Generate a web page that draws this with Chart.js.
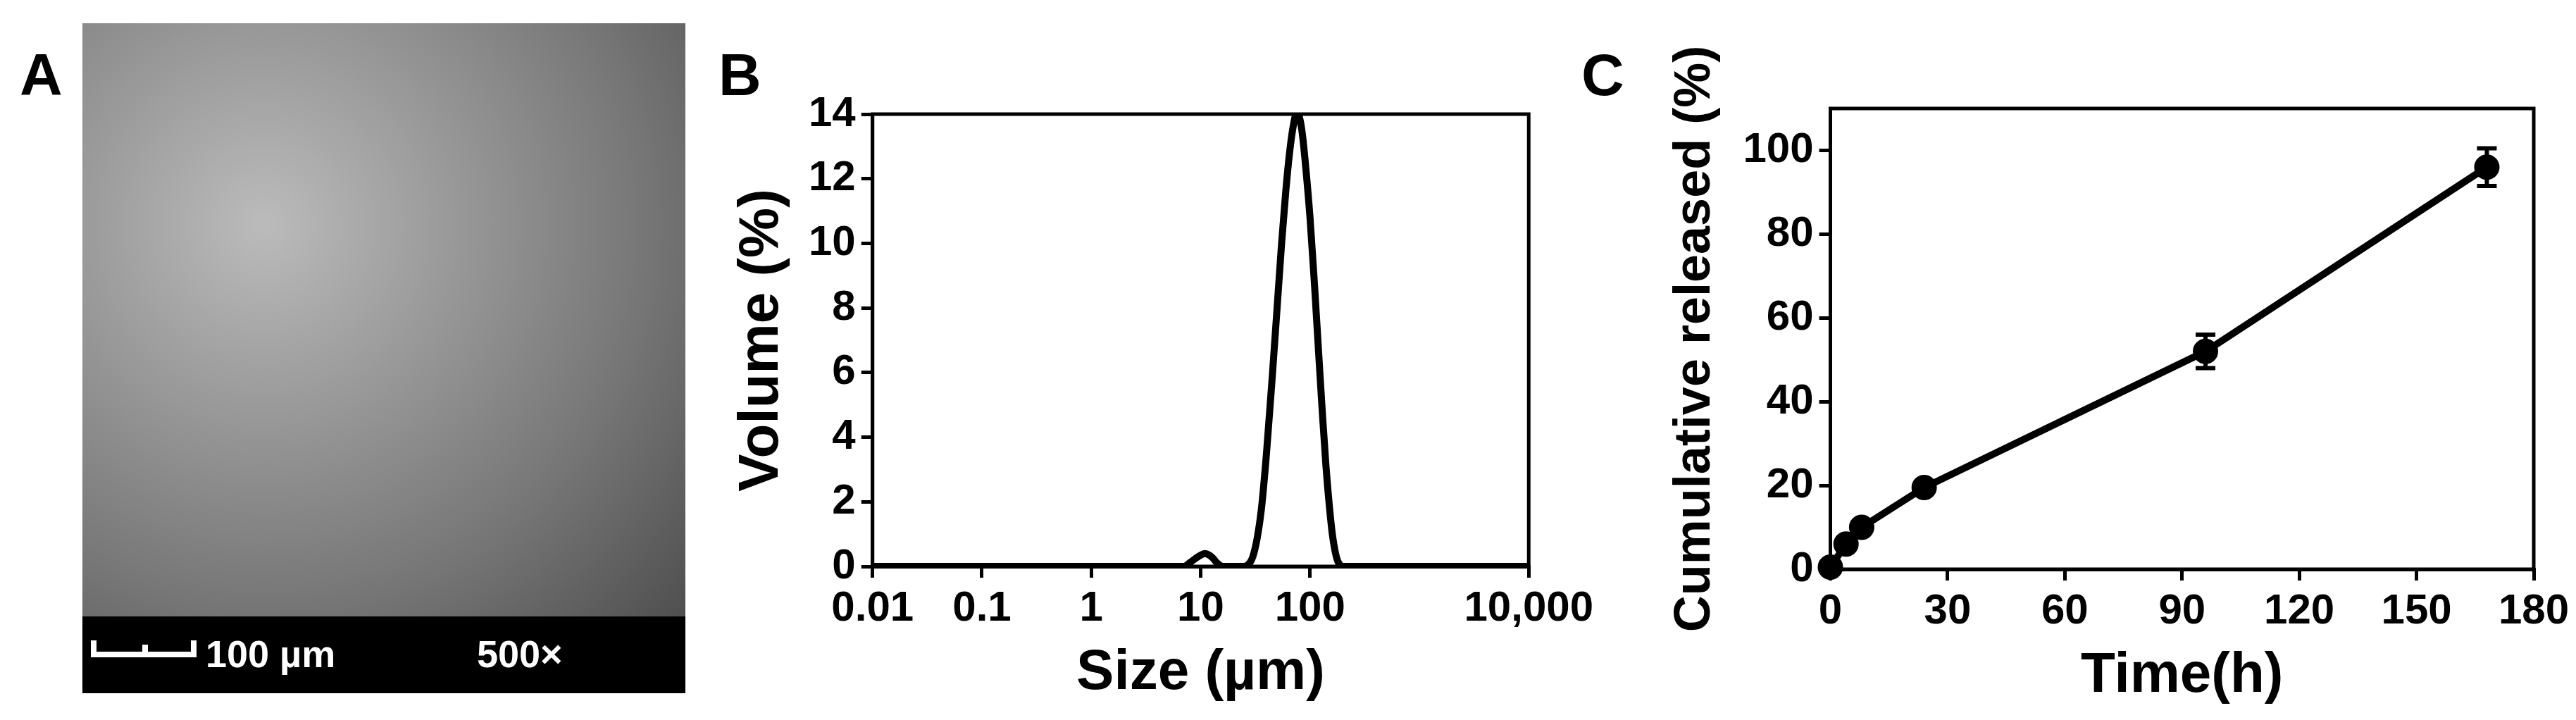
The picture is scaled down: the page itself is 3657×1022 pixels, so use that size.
<!DOCTYPE html>
<html><head><meta charset="utf-8">
<script src="https://cdn.jsdelivr.net/npm/chart.js@4"></script>
<style>
body{margin:0;width:3657px;height:1022px;background:#fff;position:relative;overflow:hidden;font-family:"Liberation Sans",Arial,sans-serif;font-weight:bold}
.lab{position:absolute;font-size:84px;font-weight:bold}
#img{position:absolute;left:117px;top:33px;width:856px;height:951px;background:radial-gradient(circle at 30% 30%,#bbb,#777 60%,#444)}
#band{position:absolute;left:117px;top:875px;width:856px;height:109px;background:#000;color:#fff;font-size:54px}
.wrap{position:absolute}
</style></head><body>
<div class="lab" style="left:28px;top:58px">A</div>
<div class="lab" style="left:1020px;top:58px">B</div>
<div class="lab" style="left:2245px;top:58px">C</div>
<div id="img"></div>
<div id="band">
 <div style="position:absolute;left:12px;top:50px;width:150px;height:8px;background:#fff"></div>
 <div style="position:absolute;left:12px;top:34px;width:8px;height:24px;background:#fff"></div>
 <div style="position:absolute;left:85px;top:40px;width:8px;height:18px;background:#fff"></div>
 <div style="position:absolute;left:154px;top:34px;width:8px;height:24px;background:#fff"></div>
 <div style="position:absolute;left:175px;top:22px">100 µm</div>
 <div style="position:absolute;left:560px;top:22px">500×</div>
</div>
<div class="wrap" style="left:1030px;top:118px;width:1240px;height:890px"><canvas id="cb"></canvas></div>
<div class="wrap" style="left:2360px;top:0px;width:1297px;height:1012px"><canvas id="cc"></canvas></div>
<script>
const sizeX=[0.01,0.1,1,5,7,8,9,10,11,12,13,14,16,25,28,30,33,36,40,45,50,55,60,65,70,75,80,85,90,100,110,120,130,140,150,160,170,180,200,1000,10000];
const volY=[0,0,0,0,0,0.12,0.25,0.35,0.4,0.35,0.25,0.12,0,0,0.1,0.3,0.9,1.8,3.5,5.8,8,10,11.6,12.8,13.6,14,13.9,13.4,12.6,10.8,8.7,6.6,4.7,3.1,1.9,1.0,0.45,0.15,0,0,0];
const bTicks=[0.01,0.1,1,10,100,10000];
const timeX=[0,4,8,24,96,168];
const relY=[0.5,6,10,19.5,52,96];
const relErr=[0.5,1,1,1,4,4.5];
const F='"Liberation Sans Narrow","Liberation Sans",Arial,sans-serif';
Chart.defaults.font.family=F;
Chart.defaults.font.weight='bold';
Chart.defaults.color='#000';
const frame={id:'frame',afterDraw(c){const a=c.chartArea,x=c.ctx;x.save();x.lineWidth=5;x.strokeStyle='#000';x.strokeRect(a.left,a.top,a.right-a.left,a.bottom-a.top);x.restore();}};
const errs={id:'errs',afterDatasetsDraw(c){const x=c.ctx,xs=c.scales.x,ys=c.scales.y;x.save();x.strokeStyle='#000';x.lineWidth=6;
 timeX.forEach((t,i)=>{if(relErr[i]<2)return;const px=xs.getPixelForValue(t),p1=ys.getPixelForValue(relY[i]+relErr[i]),p2=ys.getPixelForValue(relY[i]-relErr[i]);
 x.beginPath();x.moveTo(px,p1);x.lineTo(px,p2);x.moveTo(px-14,p1);x.lineTo(px+14,p1);x.moveTo(px-14,p2);x.lineTo(px+14,p2);x.stroke();});x.restore();}};
const TF={size:60,weight:'bold',family:F}, HF={size:80,weight:'bold',family:'"Liberation Sans",Arial,sans-serif'};
function axis(extra){return Object.assign({border:{display:true,color:'#000',width:5},grid:{drawOnChartArea:false,color:'#000',lineWidth:5,tickLength:16,tickWidth:5}},extra);}
new Chart(document.getElementById('cb'),{type:'line',data:{datasets:[{data:sizeX.map((v,i)=>({x:v,y:volY[i]})),borderColor:'#000',borderWidth:10,pointRadius:0,tension:0.4,cubicInterpolationMode:'monotone'}]},
options:{responsive:true,maintainAspectRatio:false,animation:false,plugins:{legend:{display:false},tooltip:{enabled:false}},layout:{padding:{right:80,top:10}},
scales:{x:axis({type:'logarithmic',min:0.01,max:10000,afterBuildTicks(s){s.ticks=bTicks.map(v=>({value:v}));},ticks:{font:TF,color:'#000',padding:8,maxRotation:0,callback:v=>v>=10000?'10,000':String(v)},title:{display:true,text:'Size (µm)',font:HF,padding:{top:0}}}),
y:axis({min:0,max:14,ticks:{stepSize:2,font:TF,color:'#000',padding:8},title:{display:true,text:'Volume (%)',font:HF,padding:{bottom:10}}})}},plugins:[frame]});
new Chart(document.getElementById('cc'),{type:'line',data:{datasets:[{data:timeX.map((v,i)=>({x:v,y:relY[i]})),borderColor:'#000',backgroundColor:'#000',borderWidth:10,pointRadius:13,pointHoverRadius:13,tension:0}]},
options:{responsive:true,maintainAspectRatio:false,animation:false,clip:false,plugins:{legend:{display:false},tooltip:{enabled:false}},layout:{padding:{right:60,top:154}},
scales:{x:axis({type:'linear',min:0,max:180,ticks:{stepSize:30,font:TF,color:'#000',padding:8,maxRotation:0},title:{display:true,text:'Time(h)',font:HF,padding:{top:0}}}),
y:axis({min:0,max:110,afterBuildTicks(s){s.ticks=[0,20,40,60,80,100].map(v=>({value:v}));},ticks:{font:TF,color:'#000',padding:8},title:{display:true,text:'Cumulative released (%)',font:{size:72,weight:'bold',family:'"Liberation Sans",Arial,sans-serif'},padding:{bottom:16}}})}},plugins:[frame,errs]});
</script></body></html>
